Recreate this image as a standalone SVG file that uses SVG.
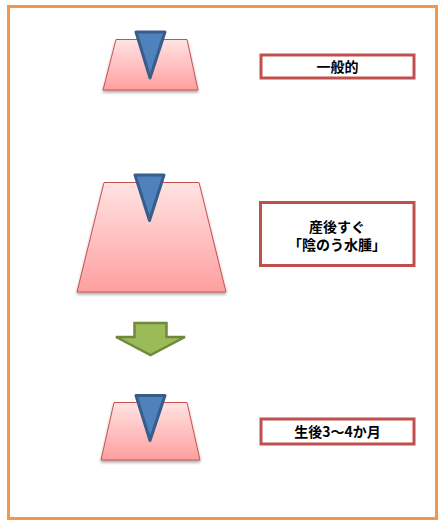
<svg xmlns="http://www.w3.org/2000/svg" width="444" height="526" viewBox="0 0 444 526">
<defs>
<linearGradient id="pink" x1="0" y1="0" x2="0" y2="1">
<stop offset="0" stop-color="#FFE3E3"/>
<stop offset="1" stop-color="#FF9F9F"/>
</linearGradient>
<filter id="sh" x="-10%" y="-10%" width="120%" height="130%">
<feGaussianBlur in="SourceAlpha" stdDeviation="1.5"/>
<feOffset dx="0" dy="2" result="b"/>
<feComponentTransfer><feFuncA type="linear" slope="0.35"/></feComponentTransfer>
<feMerge><feMergeNode/><feMergeNode in="SourceGraphic"/></feMerge>
</filter>
</defs>
<style>
.frame{fill:#fff;stroke:#F79646;stroke-width:3}
.trap{fill:url(#pink);stroke:#C9514E;stroke-width:1}
.tri{fill:#4F81BD;stroke:#385D8A;stroke-width:3;stroke-linejoin:round}
.box{fill:#fff;stroke:#C0504D;stroke-width:3}
.lbl{font-family:"Noto Sans CJK JP","Noto Sans CJK SC",sans-serif;font-size:14px;font-weight:bold;fill:#000;text-anchor:middle}
.arr{fill:#9BBB59;stroke:#71893F;stroke-width:2.5;stroke-linejoin:miter}
</style>
<rect class="frame" x="8.5" y="6.5" width="428" height="512"/>
<g id="shape1">
<polygon class="trap" filter="url(#sh)" points="116,39.5 187,39.5 198,90 103,90"/>
<polygon class="tri" points="136,32 165,32 150,78"/>
</g>
<g id="label1">
<rect class="box" x="261" y="55" width="153" height="23"/>
<text class="lbl" x="337.5" y="71.5">一般的</text>
</g>
<g id="shape2">
<polygon class="trap" filter="url(#sh)" points="104,182.5 199,182.5 226,292 77,292"/>
<polygon class="tri" points="135,175 164,175 149.5,220.5"/>
</g>
<g id="label2">
<rect class="box" x="260.5" y="202.5" width="153.5" height="63"/>
<text class="lbl" x="337" y="231.5">産後すぐ</text>
<text class="lbl" x="337" y="250">「陰のう水腫」</text>
</g>
<g id="shape3">
<polygon class="trap" filter="url(#sh)" points="114,402.5 187,402.5 200,460 101,460"/>
<polygon class="tri" points="136,395.5 165,395.5 150,440.5"/>
</g>
<g id="label3">
<rect class="box" x="261" y="419" width="153" height="25"/>
<text class="lbl" x="337.5" y="436.5">生後3～4か月</text>
</g>
<g id="connectors">
<polygon class="arr" points="134.5,323 166.5,323 166.5,337 185,337 150.5,355 116,337 134.5,337"/>
</g>
</svg>
